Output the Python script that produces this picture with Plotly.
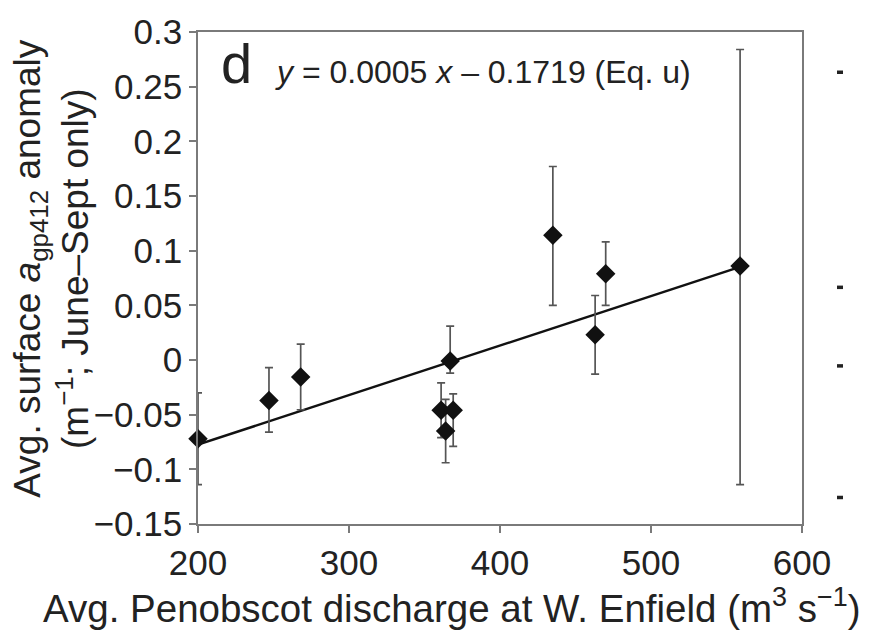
import plotly.graph_objects as go

# ---- data ----
discharge = [200, 247, 268, 361, 364, 369, 367, 435, 463, 470, 559]
anomaly = [-0.072, -0.037, -0.0155, -0.046, -0.065, -0.046, -0.001, 0.114, 0.023, 0.079, 0.086]
err_plus = [0.042, 0.030, 0.030, 0.025, 0.029, 0.015, 0.032, 0.063, 0.036, 0.029, 0.198]
err_minus = [0.042, 0.029, 0.030, 0.025, 0.029, 0.033, 0.011, 0.064, 0.036, 0.029, 0.200]

fit_slope = 0.000453
fit_intercept = -0.168
fit_x = [200, 559]

x_ticks = [200, 300, 400, 500, 600]
y_ticks = [0.3, 0.25, 0.2, 0.15, 0.1, 0.05, 0, -0.05, -0.1, -0.15]
y_ticktext = ["0.3", "0.25", "0.2", "0.15", "0.1", "0.05", "0", "\u22120.05", "\u22120.1", "\u22120.15"]

panel_label = "d"
equation = "<i>y</i> = 0.0005 <i>x</i> \u2013 0.1719 (Eq. u)"
x_title = "Avg. Penobscot discharge at W. Enfield (m<sup>3</sup> s<sup>\u22121</sup>)"
y_title = "Avg. surface <i>a</i><sub>gp412</sub> anomaly<br>(m<sup>\u22121</sup>; June\u2013Sept only)"

FONT = "Liberation Sans, Arial, sans-serif"
TXT = "#222222"
AX = "#7a7a7a"

W, H = 879, 634
L, R, T, B = 198, 77, 23, 110
pw, ph = W - L - R, H - T - B


def px(xp):
    return (xp - L) / pw


def py(yp):
    return 1 - (yp - T) / ph


fig = go.Figure()

fit_y = [fit_slope * v + fit_intercept for v in fit_x]
fig.add_trace(go.Scatter(
    x=fit_x, y=fit_y, mode="lines",
    line=dict(color="#111111", width=2.5),
    hoverinfo="skip", showlegend=False,
))

fig.add_trace(go.Scatter(
    x=discharge, y=anomaly, mode="markers",
    marker=dict(symbol="diamond", size=15, color="#111111"),
    error_y=dict(type="data", symmetric=False, array=err_plus, arrayminus=err_minus,
                 color="#555555", thickness=1.7, width=4),
    cliponaxis=False, showlegend=False,
))

axis_common = dict(
    showline=True, linecolor=AX, linewidth=1.7, mirror=True,
    ticks="outside", tickcolor=AX, tickwidth=1.6, ticklen=7,
    showgrid=False, zeroline=False,
    tickfont=dict(family=FONT, size=35, color=TXT),
)

fig.update_xaxes(range=[200, 600], tickvals=x_ticks, ticktext=[str(v) for v in x_ticks], **axis_common)
fig.update_yaxes(range=[-0.15, 0.3], tickvals=y_ticks, ticktext=y_ticktext, **axis_common)

fig.add_annotation(text=panel_label, xref="paper", yref="paper", x=px(219), y=py(55),
                   xanchor="left", yanchor="middle", showarrow=False,
                   font=dict(family=FONT, size=56, color=TXT))
fig.add_annotation(text=equation, xref="paper", yref="paper", x=px(273), y=py(64),
                   xanchor="left", yanchor="middle", showarrow=False,
                   font=dict(family=FONT, size=32, color=TXT))
fig.add_annotation(text=x_title, xref="paper", yref="paper", x=px(452), y=py(608),
                   xanchor="center", yanchor="middle", showarrow=False,
                   font=dict(family=FONT, size=38.5, color=TXT))
fig.add_annotation(text=y_title, xref="paper", yref="paper", x=px(52), y=py(264),
                   xanchor="center", yanchor="middle", showarrow=False, textangle=-90,
                   font=dict(family=FONT, size=37, color=TXT))

# stray marks from the neighbouring panel at the right edge of the reference
stray_y = [64, 283, 363, 497]
for yy in stray_y:
    fig.add_shape(type="line", xref="paper", yref="paper",
                  x0=px(837), x1=px(843), y0=py(yy), y1=py(yy),
                  line=dict(color="#222222", width=3.5))

fig.update_layout(
    width=W, height=H, autosize=False,
    margin=dict(l=L, r=R, t=T, b=B),
    paper_bgcolor="white", plot_bgcolor="white",
    font=dict(family=FONT, color=TXT),
)

fig.write_html("out.html")
